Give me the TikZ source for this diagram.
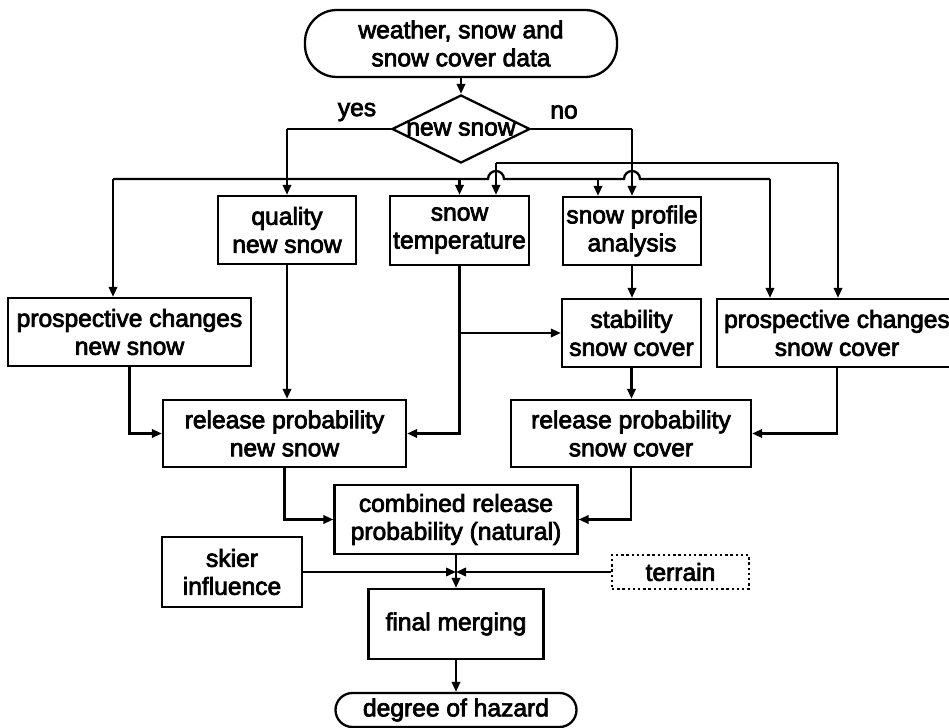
\documentclass[tikz,border=0pt]{standalone}
\usepackage{fontspec}
\setmainfont{Liberation Sans}[FakeBold=3]
\usetikzlibrary{shapes.geometric,arrows.meta}
\begin{document}
\begin{tikzpicture}[x=0.5pt,y=-0.5pt,
  font=\fontsize{12.3pt}{14pt}\selectfont,
  line width=1.15pt,
  box/.style={draw, rectangle, inner sep=0pt, align=center},
  term/.style={draw, rectangle, inner sep=0pt, align=center},
  arr/.style={-{Triangle[length=5pt,width=4.2pt]}},
  lbl/.style={inner sep=0pt}]
\useasboundingbox (0,0) rectangle (949,728);
\clip (0,0) rectangle (949,728);
% nodes
\node[term, rounded corners=16pt, minimum width=156pt, minimum height=33.5pt] (start) at (461,43.5) {weather, snow and\\snow cover data};
\node[draw, diamond, inner sep=0pt, minimum width=69pt, minimum height=34pt] (dec) at (461,129) {\makebox[0pt]{new snow}};
\node[lbl] (yes) at (357,112) {yes};
\node[lbl] (no) at (564,112) {no};
\node[box, minimum width=69pt, minimum height=34pt] (quality) at (287,230) {quality\\new snow};
\node[box, minimum width=69.5pt, minimum height=34.5pt] (snowtemp) at (459.5,230.5) {snow\\temperature};
\node[box, minimum width=69pt, minimum height=34pt] (profile) at (632,231) {snow profile\\analysis};
\node[box, minimum width=121.5pt, minimum height=34pt] (pcns) at (129.5,332) {prospective changes\\new snow};
\node[box, minimum width=69.5pt, minimum height=34pt] (stab) at (631.5,333) {stability\\snow cover};
\node[box, minimum width=120pt, minimum height=34pt] (pcsc) at (837,333) {prospective changes\\snow cover};
\node[box, minimum width=121.5pt, minimum height=33.5pt] (rns) at (284.5,433.5) {release probability\\new snow};
\node[box, minimum width=120pt, minimum height=33.5pt] (rsc) at (631,433.5) {release probability\\snow cover};
\node[box, minimum width=121.5pt, minimum height=34.5pt] (comb) at (456,519.5) {combined release\\probability (natural)};
\node[box, minimum width=70pt, minimum height=35pt] (skier) at (232,572) {skier\\influence};
\node[box, line width=0.6pt, dash pattern=on 1.2pt off 1.4pt, minimum width=68.5pt, minimum height=17pt] (terrain) at (680.5,572) {terrain};
\node[box, minimum width=87.5pt, minimum height=35pt] (final) at (456,624) {final merging};
\node[term, rounded corners=8.5pt, minimum width=120.5pt, minimum height=17pt] (degree) at (456,710) {degree of hazard};
% top
\draw[arr] (start.south) -- (dec.north);
% yes branch
\coordinate (yesc) at (quality.north |- dec.west);
\draw (dec.west) -- (yesc);
\draw[arr] (yesc) -- (quality.north);
\coordinate (L1) at (113,179);
\coordinate (L2) at (770,179);
\coordinate (L3) at (598,179);
\draw (L1) -- (488,179) arc[start angle=180,end angle=0,radius=4pt] -- (624,179) arc[start angle=180,end angle=0,radius=4pt] -- (L2);
\draw[arr] (L1) -- (L1 |- pcns.north);
\draw[arr] (snowtemp.north |- L1) -- (snowtemp.north);
\draw[arr] (L3) -- (L3 |- profile.north);
\draw[arr] (L2) -- (L2 |- pcsc.north);
% no branch
\coordinate (noc) at (profile.north |- dec.east);
\draw (dec.east) -- (noc);
\draw[arr] (noc) -- (profile.north);
\coordinate (U1) at (496,163);
\coordinate (U2) at (838,163);
\draw (U1) -- (U2);
\draw[arr] (U1) -- (U1 |- snowtemp.north);
\draw[arr] (U2) -- (U2 |- pcsc.north);
% middle
\draw[arr] (quality.south) -- (quality.south |- rns.north);
\draw[arr] (snowtemp.south) |- (rns.east);
\draw[arr] (snowtemp.south |- stab.west) -- (stab.west);
\draw[arr] (pcns.south) |- (rns.west);
\draw[arr] (profile.south) -- (profile.south |- stab.north);
\draw[arr] (stab.south) -- (stab.south |- rsc.north);
\draw[arr] (pcsc.south) |- (rsc.east);
\draw[arr] (rns.south) |- (comb.west);
\draw[arr] (rsc.south) |- (comb.east);
% bottom
\coordinate (J) at (comb.south |- skier.east);
\draw[arr] (comb.south) -- (final.north);
\draw[arr] (skier.east) -- (J);
\draw[arr] (terrain.west) -- (J);
\draw[arr] (final.south) -- (degree.north);
\end{tikzpicture}
\end{document}
